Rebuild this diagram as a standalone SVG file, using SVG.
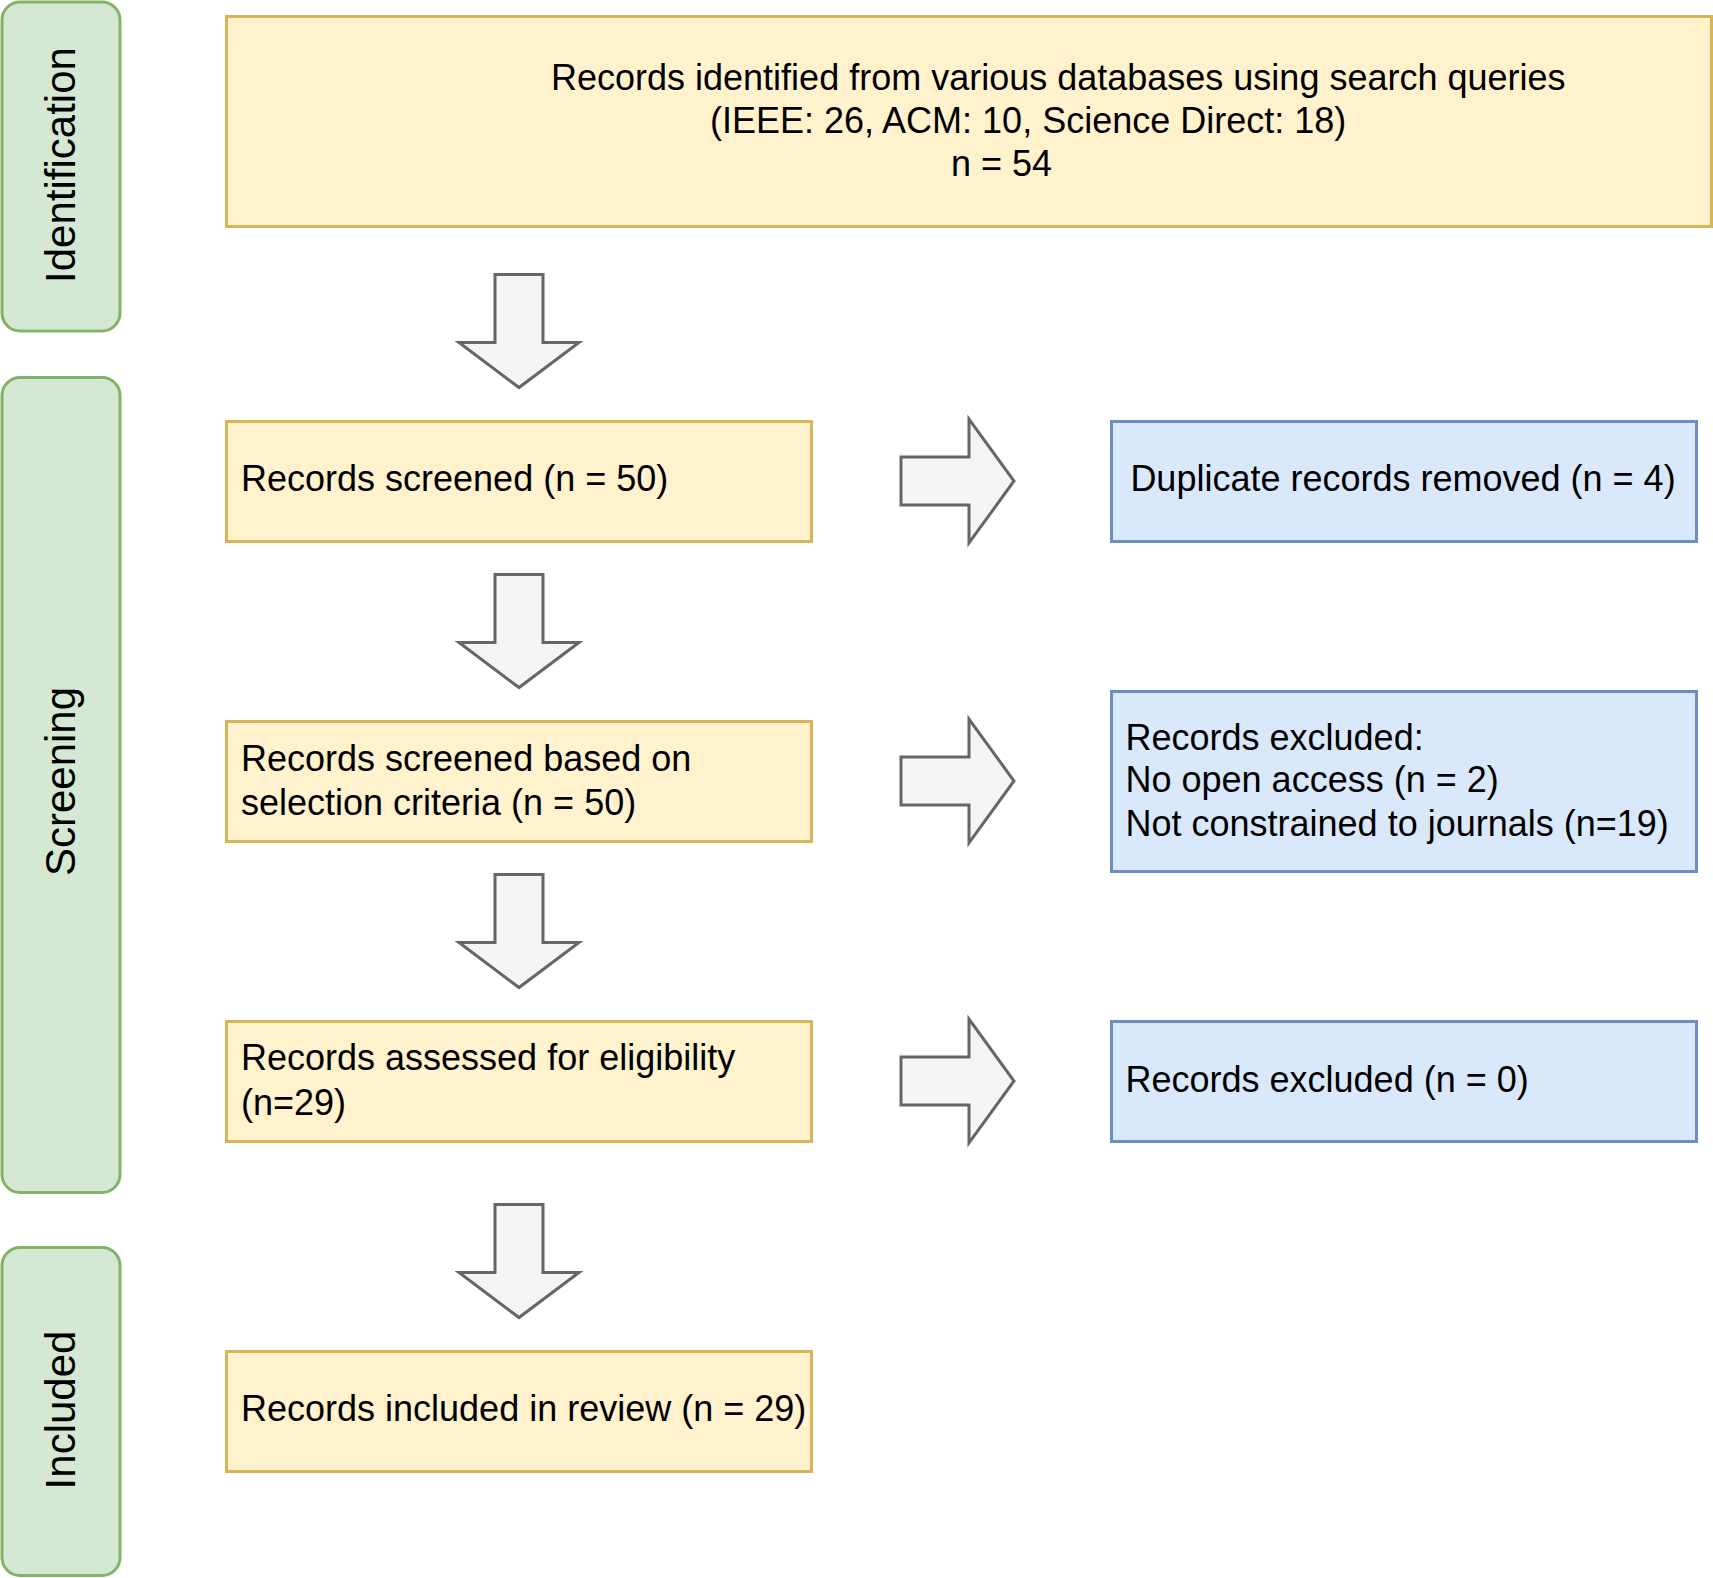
<svg xmlns="http://www.w3.org/2000/svg" width="1713" height="1578" viewBox="0 0 1713 1578">
<style>
.lane{fill:#d5e8d4;stroke:#82b366;stroke-width:3}
.ybox{fill:#fff2cc;stroke:#d6b656;stroke-width:3}
.bbox{fill:#dae8fc;stroke:#6c8ebf;stroke-width:3}
.arr{fill:#f5f5f5;stroke:#666666;stroke-width:3;stroke-linejoin:miter}
text{font-family:"Liberation Sans",Arial,Helvetica,sans-serif;font-size:36px;fill:#000}
.lbl{font-size:42px;text-anchor:middle}
</style>
<defs>
<path id="down" d="M -24,0 H 24 V 68 H 60 L 0,113 L -60,68 H -24 Z"/>
<path id="right" d="M 0,-24 H 68 V -62 L 113,0 L 68,62 V 24 H 0 Z"/>
</defs>
<rect width="1713" height="1578" fill="#ffffff"/>

<g id="lane-identification">
<rect class="lane" x="2" y="2" width="118" height="329" rx="18" ry="18"/>
<text class="lbl" transform="translate(75,165) rotate(-90)">Identification</text>
</g>
<g id="lane-screening">
<rect class="lane" x="2" y="377.5" width="118" height="815" rx="18" ry="18"/>
<text class="lbl" transform="translate(75,781.5) rotate(-90)">Screening</text>
</g>
<g id="lane-included">
<rect class="lane" x="2" y="1247.5" width="118" height="328" rx="18" ry="18"/>
<text class="lbl" transform="translate(75,1410) rotate(-90)">Included</text>
</g>

<g id="node-identified">
<rect class="ybox" x="226.5" y="16.5" width="1485" height="210"/>
<text x="551" y="89.5">Records identified from various databases using search queries</text>
<text x="710" y="132.7">(IEEE: 26, ACM: 10, Science Direct: 18)</text>
<text x="951" y="176">n = 54</text>
</g>

<g id="node-screened">
<rect class="ybox" x="226.5" y="421.5" width="585" height="120"/>
<text x="241" y="490.7">Records screened (n = 50)</text>
</g>

<g id="node-duplicates">
<rect class="bbox" x="1111.5" y="421.5" width="585" height="120"/>
<text x="1403" y="490.7" text-anchor="middle">Duplicate records removed (n = 4)</text>
</g>

<g id="node-criteria">
<rect class="ybox" x="226.5" y="721.5" width="585" height="120"/>
<text x="241" y="770.5">Records screened based on</text>
<text x="241" y="815">selection criteria (n = 50)</text>
</g>

<g id="node-excluded1">
<rect class="bbox" x="1111.5" y="691.5" width="585" height="180"/>
<text x="1125.5" y="749.5">Records excluded:</text>
<text x="1125.5" y="792">No open access (n = 2)</text>
<text x="1125.5" y="835.5">Not constrained to journals (n=19)</text>
</g>

<g id="node-eligibility">
<rect class="ybox" x="226.5" y="1021.5" width="585" height="120"/>
<text x="241" y="1070">Records assessed for eligibility</text>
<text x="241" y="1115">(n=29)</text>
</g>

<g id="node-excluded2">
<rect class="bbox" x="1111.5" y="1021.5" width="585" height="120"/>
<text x="1125.5" y="1091.5">Records excluded (n = 0)</text>
</g>

<g id="node-included">
<rect class="ybox" x="226.5" y="1351.5" width="585" height="120"/>
<text x="241" y="1420.7">Records included in review (n = 29)</text>
</g>

<g id="connectors">
<use href="#down" class="arr" x="519" y="274.5"/>
<use href="#down" class="arr" x="519" y="574.5"/>
<use href="#down" class="arr" x="519" y="874.5"/>
<use href="#down" class="arr" x="519" y="1204.5"/>
<use href="#right" class="arr" x="901" y="481"/>
<use href="#right" class="arr" x="901" y="781"/>
<use href="#right" class="arr" x="901" y="1081"/>
</g>
</svg>
